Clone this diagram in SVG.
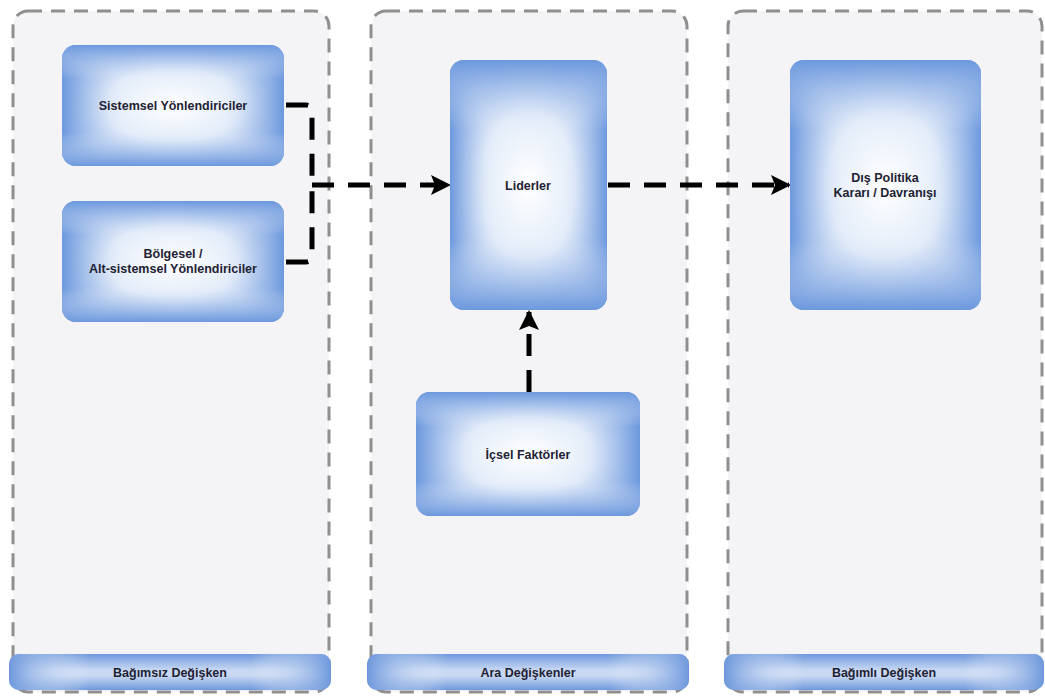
<svg xmlns="http://www.w3.org/2000/svg" width="1045" height="700" viewBox="0 0 1045 700">
<style>
.lane{fill:#f4f4f7;stroke:#8f8f8f;stroke-width:3;stroke-dasharray:14 9}
.node{fill:url(#ng)}
.nodeh{fill:url(#nh)}
.nodev{fill:url(#nv)}
.bar{fill:url(#bg)}
.t{font-family:"Liberation Sans",Arial,sans-serif;font-size:12.5px;font-weight:bold;fill:#1e2233;text-anchor:middle}
.c{fill:none;stroke:#000;stroke-width:5;stroke-dasharray:22 14}
</style>
<defs>
<linearGradient id="nh" x1="0" y1="0" x2="1" y2="0">
<stop offset="0" stop-color="#6c98dd"/>
<stop offset="0.28" stop-color="#dbe6f8" stop-opacity="0.0"/>
<stop offset="0.72" stop-color="#dbe6f8" stop-opacity="0.0"/>
<stop offset="1" stop-color="#6c98dd"/>
</linearGradient>
<linearGradient id="nv" x1="0" y1="0" x2="0" y2="1">
<stop offset="0" stop-color="#6c98dd"/>
<stop offset="0.28" stop-color="#dbe6f8" stop-opacity="0.0"/>
<stop offset="0.72" stop-color="#dbe6f8" stop-opacity="0.0"/>
<stop offset="1" stop-color="#6c98dd"/>
</linearGradient>
<radialGradient id="ng" cx="0.5" cy="0.5" r="0.6">
<stop offset="0" stop-color="#ffffff"/>
<stop offset="0.5" stop-color="#e3ecf9"/>
<stop offset="1" stop-color="#86a9e2"/>
</radialGradient>
<linearGradient id="bg" x1="0" y1="0" x2="0" y2="1">
<stop offset="0" stop-color="#6e98dc"/>
<stop offset="0.45" stop-color="#c9d9f3"/>
<stop offset="0.6" stop-color="#c9d9f3"/>
<stop offset="1" stop-color="#6e98dc"/>
</linearGradient>
<linearGradient id="bgh" x1="0" y1="0" x2="1" y2="0">
<stop offset="0" stop-color="#6e98dc"/>
<stop offset="0.25" stop-color="#ffffff" stop-opacity="0"/>
<stop offset="0.75" stop-color="#ffffff" stop-opacity="0"/>
<stop offset="1" stop-color="#6e98dc"/>
</linearGradient>
<marker id="ah" viewBox="0 0 10 10" refX="9" refY="5" markerWidth="4" markerHeight="4" markerUnits="strokeWidth" orient="auto">
<path d="M0,0 L10,5 L0,10 L2,5 Z" fill="#000"/>
</marker>
</defs>

<g id="lanes">
<g id="lane-bagimsiz">
<rect class="lane" x="13" y="11" width="316" height="681" rx="15"/>
<rect class="bar" x="9" y="654" width="322" height="36" rx="10"/>
<rect fill="url(#bgh)" x="9" y="654" width="322" height="36" rx="10"/>
<text class="t" x="170" y="677">Bağımsız Değişken</text>
</g>
<g id="lane-ara">
<rect class="lane" x="371" y="11" width="316" height="681" rx="15"/>
<rect class="bar" x="367" y="654" width="322" height="36" rx="10"/>
<rect fill="url(#bgh)" x="367" y="654" width="322" height="36" rx="10"/>
<text class="t" x="528" y="677">Ara Değişkenler</text>
</g>
<g id="lane-bagimli">
<rect class="lane" x="728" y="11" width="314" height="681" rx="15"/>
<rect class="bar" x="724" y="654" width="320" height="36" rx="10"/>
<rect fill="url(#bgh)" x="724" y="654" width="320" height="36" rx="10"/>
<text class="t" x="884" y="677">Bağımlı Değişken</text>
</g>
</g>

<g id="connectors">
<path class="c" d="M286,105 L306,105 Q312,105 312,112 L312,183"/>
<path class="c" d="M286,262 L306,262 Q312,262 312,255 L312,185"/>
<path class="c" d="M312,185 L449,185" marker-end="url(#ah)"/>
<path class="c" d="M608,185 L789,185" marker-end="url(#ah)"/>
<path class="c" d="M529,392 L529,312" marker-end="url(#ah)" stroke-dasharray="28 14"/>
</g>

<g id="node-sistemsel">
<rect class="node" x="62" y="45" width="222" height="121" rx="14"/>
<rect class="nodeh" x="62" y="45" width="222" height="121" rx="14"/>
<rect class="nodev" x="62" y="45" width="222" height="121" rx="14"/>
<text class="t" x="173" y="110">Sistemsel Yönlendiriciler</text>
</g>
<g id="node-bolgesel">
<rect class="node" x="62" y="201" width="222" height="121" rx="14"/>
<rect class="nodeh" x="62" y="201" width="222" height="121" rx="14"/>
<rect class="nodev" x="62" y="201" width="222" height="121" rx="14"/>
<text class="t" x="173" y="258">Bölgesel /</text>
<text class="t" x="173" y="273">Alt-sistemsel Yönlendiriciler</text>
</g>
<g id="node-liderler">
<rect class="node" x="450" y="60" width="157" height="250" rx="14"/>
<rect class="nodeh" x="450" y="60" width="157" height="250" rx="14"/>
<rect class="nodev" x="450" y="60" width="157" height="250" rx="14"/>
<text class="t" x="528" y="190">Liderler</text>
</g>
<g id="node-icsel">
<rect class="node" x="416" y="392" width="224" height="124" rx="14"/>
<rect class="nodeh" x="416" y="392" width="224" height="124" rx="14"/>
<rect class="nodev" x="416" y="392" width="224" height="124" rx="14"/>
<text class="t" x="528" y="459">İçsel Faktörler</text>
</g>
<g id="node-dispolitika">
<rect class="node" x="790" y="60" width="191" height="250" rx="14"/>
<rect class="nodeh" x="790" y="60" width="191" height="250" rx="14"/>
<rect class="nodev" x="790" y="60" width="191" height="250" rx="14"/>
<text class="t" x="885" y="182">Dış Politika</text>
<text class="t" x="885" y="197">Kararı / Davranışı</text>
</g>
</svg>
